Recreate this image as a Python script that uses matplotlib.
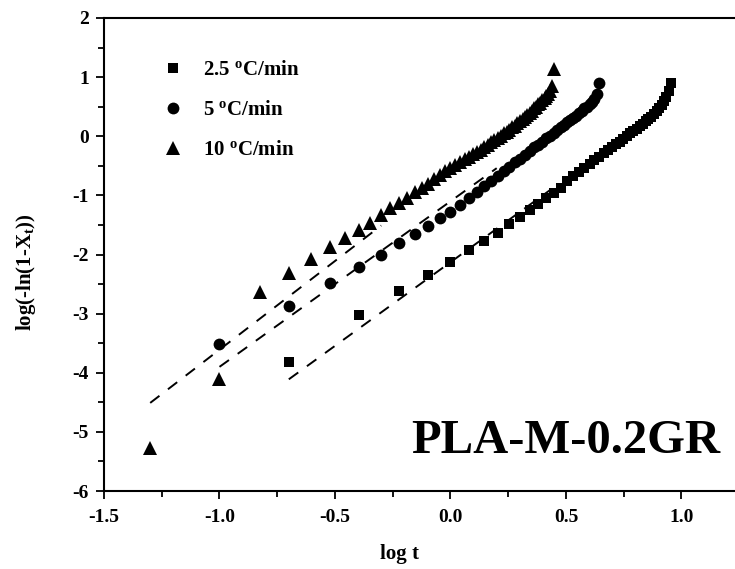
import matplotlib
matplotlib.use("Agg")
import matplotlib.pyplot as plt
import numpy as np
from matplotlib.ticker import MultipleLocator

plt.rcParams['font.family'] = ['Liberation Serif', 'DejaVu Serif']
plt.rcParams['font.weight'] = 'bold'
plt.rcParams['mathtext.fontset'] = 'custom'
plt.rcParams['mathtext.rm'] = 'Liberation Serif:bold'
plt.rcParams['mathtext.bf'] = 'Liberation Serif:bold'
plt.rcParams['mathtext.it'] = 'Liberation Serif:bold'

# ---------------- data ----------------
labels = [r'2.5 $^{\mathbf{o}}$C/min', r'5 $^{\mathbf{o}}$C/min', r'10 $^{\mathbf{o}}$C/min']

logt_25 = [-0.699, -0.398, -0.222, -0.097, 0.000, 0.079, 0.146, 0.204, 0.255, 0.301,
           0.342, 0.380, 0.415, 0.447, 0.477, 0.505, 0.531, 0.556, 0.580, 0.602,
           0.623, 0.643, 0.663, 0.681, 0.699, 0.716, 0.732, 0.748, 0.763, 0.778,
           0.792, 0.806, 0.820, 0.833, 0.845, 0.857, 0.869, 0.881, 0.892, 0.903,
           0.914, 0.924, 0.934, 0.944, 0.954]
y_25 = [-3.82, -3.03, -2.62, -2.34, -2.12, -1.93, -1.77, -1.63, -1.48, -1.36,
        -1.25, -1.15, -1.05, -0.96, -0.87, -0.75, -0.67, -0.60, -0.53, -0.47,
        -0.40, -0.35, -0.29, -0.23, -0.18, -0.13, -0.09, -0.04, 0.01, 0.05,
        0.09, 0.13, 0.17, 0.21, 0.25, 0.29, 0.33, 0.37, 0.42, 0.47,
        0.53, 0.59, 0.66, 0.76, 0.90]

logt_5 = [-1.000, -0.699, -0.523, -0.398, -0.301, -0.222, -0.155, -0.097, -0.046, 0.000,
          0.041, 0.079, 0.114, 0.146, 0.176, 0.204, 0.230, 0.255, 0.279, 0.301,
          0.322, 0.342, 0.362, 0.380, 0.398, 0.415, 0.431, 0.447, 0.462, 0.477,
          0.491, 0.505, 0.519, 0.531, 0.544, 0.556, 0.568, 0.580, 0.591, 0.602,
          0.613, 0.623, 0.633, 0.643]
y_5 = [-3.52, -2.87, -2.48, -2.21, -2.01, -1.81, -1.66, -1.51, -1.39, -1.28,
       -1.16, -1.05, -0.94, -0.84, -0.75, -0.67, -0.59, -0.52, -0.44, -0.38,
       -0.31, -0.25, -0.19, -0.14, -0.09, -0.03, 0.01, 0.06, 0.11, 0.15,
       0.19, 0.24, 0.28, 0.31, 0.35, 0.39, 0.43, 0.47, 0.50, 0.54,
       0.58, 0.63, 0.72, 0.90]

logt_10 = [-1.301, -1.000, -0.824, -0.699, -0.602, -0.523, -0.456, -0.398, -0.347, -0.301,
           -0.260, -0.222, -0.187, -0.155, -0.125, -0.097, -0.071, -0.046, -0.022, 0.000,
           0.021, 0.041, 0.061, 0.079, 0.097, 0.114, 0.130, 0.146, 0.161, 0.176,
           0.190, 0.204, 0.217, 0.230, 0.243, 0.255, 0.267, 0.279, 0.290, 0.301,
           0.312, 0.322, 0.332, 0.342, 0.352, 0.362, 0.371, 0.380, 0.389, 0.398,
           0.407, 0.415, 0.423, 0.431, 0.439, 0.447]
y_10 = [-5.28, -4.11, -2.64, -2.31, -2.08, -1.88, -1.72, -1.59, -1.46, -1.34,
        -1.21, -1.13, -1.04, -0.95, -0.87, -0.80, -0.72, -0.66, -0.59, -0.53,
        -0.48, -0.44, -0.39, -0.35, -0.30, -0.26, -0.23, -0.18, -0.14, -0.10,
        -0.06, -0.03, 0.01, 0.05, 0.08, 0.11, 0.15, 0.18, 0.22, 0.26,
        0.30, 0.33, 0.36, 0.40, 0.43, 0.47, 0.50, 0.54, 0.57, 0.61,
        0.64, 0.68, 0.72, 0.77, 0.85, 1.13]

# linear fits (dashed): slope, intercept, x range
fit_slope = [2.83, 2.80, 3.00]
fit_intercept = [-2.13, -1.10, -0.61]
fit_xstart = [-0.70, -1.00, -1.30]
fit_xend = [0.45, 0.20, -0.30]

sample_name = 'PLA-M-0.2GR'
# ---------------------------------------------------------------

W, H = 735, 569
fig = plt.figure(figsize=(W / 100, H / 100), dpi=100)
ax = fig.add_axes([104 / W, 1 - 491 / H, 1 - 104 / W, (491 - 18) / H])

series = [(logt_25, y_25, 's', 7.5), (logt_5, y_5, 'o', 8.5), (logt_10, y_10, '^', 9.5)]
for (xs, ys, m, ms), lab in zip(series, labels):
    ax.plot(xs, ys, linestyle='none', marker=m, markersize=ms, color='black',
            markeredgewidth=0, label=lab)

for s, b, x0, x1 in zip(fit_slope, fit_intercept, fit_xstart, fit_xend):
    xx = np.array([x0, x1])
    ax.plot(xx, s * xx + b, color='black', lw=1.4, linestyle=(0, (6, 5.5)))

ax.set_xlim(-1.5, -1.5 + (W - 104) / 231.0)
ax.set_ylim(-6, 2)
ax.xaxis.set_minor_locator(MultipleLocator(0.25))
ax.yaxis.set_minor_locator(MultipleLocator(0.5))
ax.set_xticks([-1.5, -1.0, -0.5, 0.0, 0.5, 1.0])
ax.set_xticklabels(['-1.5', '-1.0', '-0.5', '0.0', '0.5', '1.0'])
ax.set_yticks([2, 1, 0, -1, -2, -3, -4, -5, -6])
ax.set_yticklabels(['2', '1', '0', '-1', '-2', '-3', '-4', '-5', '-6'])
ax.tick_params(which='major', direction='out', length=6, width=1.3, labelsize=14)
ax.tick_params(axis='x', which='major', pad=7)
ax.tick_params(axis='y', which='major', pad=5)
ax.tick_params(which='minor', direction='out', length=4, width=1.3)
ax.spines['right'].set_visible(False)
for sp in ['left', 'top', 'bottom']:
    ax.spines[sp].set_linewidth(1.5)
for lbl in ax.get_xticklabels() + ax.get_yticklabels():
    lbl.set_fontweight('bold')

ax.set_xlabel('log t', fontsize=15, fontweight='bold')
ax.xaxis.set_label_coords((400 - 104) / (W - 104), -0.112)
ax.set_ylabel(r'log(-ln(1-X$_\mathbf{t}$))', fontsize=15, fontweight='bold')
ax.yaxis.set_label_coords(-0.104, (491 - 272) / 473)

leg = ax.legend(loc='upper left', bbox_to_anchor=((154 - 104) / (W - 104), 1 - (52 - 18) / 473),
                frameon=False, fontsize=15, handletextpad=0.95, labelspacing=0.95,
                handlelength=1.0, borderaxespad=0)

ax.text(566, H - 441, sample_name, transform=None, ha='center', va='center',
        fontsize=35, fontweight='bold')

fig.savefig('out.png', dpi=100)
